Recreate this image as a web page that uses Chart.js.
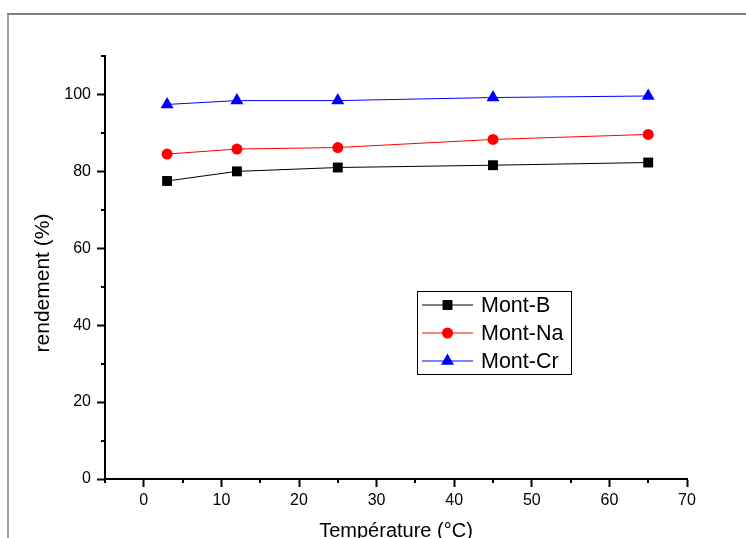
<!DOCTYPE html>
<html>
<head>
<meta charset="utf-8">
<script src="https://cdn.jsdelivr.net/npm/chart.js@4"></script>
<style>
  body { margin: 0; background: #fff; }
  canvas { display: block; }
</style>
</head>
<body>
<canvas id="chart" width="746" height="538"></canvas>
<script>
// data
const temperatures = [3, 12, 25, 45, 65];
const montB = [77.5, 80.0, 81.0, 81.6, 82.3];
const montNa = [84.5, 85.8, 86.2, 88.3, 89.6];
const montCr = [97.4, 98.4, 98.4, 99.2, 99.6];

const xTicks = [0, 10, 20, 30, 40, 50, 60, 70];
const xMinor = [-5, 5, 15, 25, 35, 45, 55, 65];
const yTicks = [0, 20, 40, 60, 80, 100];
const yMinor = [10, 30, 50, 70, 90, 110];

const FONT = 'Arial, "Liberation Sans", sans-serif';

const series = [
    { label: 'Mont-B', values: montB, color: '#000000', style: 'rect', radius: 7 },
    { label: 'Mont-Na', values: montNa, color: '#ff0000', style: 'circle', radius: 5.5 },
    { label: 'Mont-Cr', values: montCr, color: '#0000ff', style: 'triangle', radius: 7.5 }
];

// frame, minor ticks, y title and the boxed legend
const decorations = {
    id: 'decorations',
    beforeDraw(chart) {
        const ctx = chart.ctx;
        ctx.save();
        ctx.strokeStyle = '#808080';
        ctx.lineWidth = 2;
        ctx.beginPath();
        ctx.moveTo(7, 14);
        ctx.lineTo(746, 14);
        ctx.stroke();
        ctx.lineWidth = 1.5;
        ctx.beginPath();
        ctx.moveTo(8, 14);
        ctx.lineTo(8, 538);
        ctx.stroke();
        ctx.restore();
    },
    afterDraw(chart) {
        const ctx = chart.ctx;
        const xs = chart.scales.x, ys = chart.scales.y;
        ctx.save();
        ctx.strokeStyle = '#000';
        ctx.lineWidth = 2;
        ctx.beginPath();
        xMinor.forEach(v => {
            const px = Math.round(xs.getPixelForValue(v));
            ctx.moveTo(px, ys.bottom);
            ctx.lineTo(px, ys.bottom + 4);
        });
        yMinor.forEach(v => {
            const py = Math.round(ys.getPixelForValue(v));
            ctx.moveTo(xs.left, py);
            ctx.lineTo(xs.left - 4, py);
        });
        ctx.stroke();

        // y axis title
        ctx.fillStyle = '#000';
        ctx.font = '21px ' + FONT;
        ctx.textAlign = 'center';
        ctx.textBaseline = 'middle';
        ctx.translate(43, 283);
        ctx.rotate(-Math.PI / 2);
        ctx.fillText('rendement (%)', 0, 0);
        ctx.restore();

        // legend
        ctx.save();
        ctx.strokeStyle = '#000';
        ctx.lineWidth = 1;
        ctx.strokeRect(417.5, 291.5, 154, 83);
        series.forEach((s, i) => {
            const y = 305 + i * 28;
            ctx.strokeStyle = s.color;
            ctx.lineWidth = 1;
            ctx.beginPath();
            ctx.moveTo(422, y);
            ctx.lineTo(473, y);
            ctx.stroke();
            ctx.fillStyle = s.color;
            Chart.helpers.drawPoint(ctx, {
                pointStyle: s.style, radius: s.radius, rotation: 0, borderWidth: 0
            }, 447.5, y);
            ctx.fillStyle = '#000';
            ctx.font = '21.5px ' + FONT;
            ctx.textAlign = 'left';
            ctx.textBaseline = 'middle';
            ctx.fillText(s.label, 481, y + 1);
        });
        ctx.restore();
    }
};

new Chart('chart', {
    type: 'line',
    data: {
        datasets: series.map(s => ({
            label: s.label,
            data: temperatures.map((t, i) => ({ x: t, y: s.values[i] })),
            borderColor: s.color,
            backgroundColor: s.color,
            borderWidth: 1,
            pointStyle: s.style,
            pointRadius: s.radius,
            pointBorderWidth: 0,
            tension: 0
        }))
    },
    options: {
        responsive: false,
        animation: false,
        devicePixelRatio: 1,
        layout: { padding: { top: 56, right: 59, bottom: 0, left: 0 } },
        plugins: {
            legend: { display: false },
            tooltip: { enabled: false }
        },
        scales: {
            x: {
                type: 'linear',
                min: -5,
                max: 70,
                afterBuildTicks: scale => { scale.ticks = xTicks.map(v => ({ value: v })); },
                afterFit: scale => { scale.height = 59; },
                grid: { drawOnChartArea: false, tickLength: 8, tickWidth: 2, tickColor: '#000' },
                border: { color: '#000', width: 2 },
                ticks: { color: '#000', font: { family: FONT, size: 16 }, padding: 4, maxRotation: 0 },
                title: {
                    display: true,
                    text: 'Température (°C)',
                    color: '#000',
                    font: { family: FONT, size: 20, lineHeight: 1 },
                    padding: { top: 0, bottom: -3 }
                }
            },
            y: {
                min: 0,
                max: 110,
                afterBuildTicks: scale => { scale.ticks = yTicks.map(v => ({ value: v })); },
                afterFit: scale => { scale.width = 105; },
                grid: { drawOnChartArea: false, tickLength: 8, tickWidth: 2, tickColor: '#000' },
                border: { color: '#000', width: 2 },
                ticks: { color: '#000', font: { family: FONT, size: 16 }, padding: 6 }
            }
        }
    },
    plugins: [decorations]
});
</script>
</body>
</html>
